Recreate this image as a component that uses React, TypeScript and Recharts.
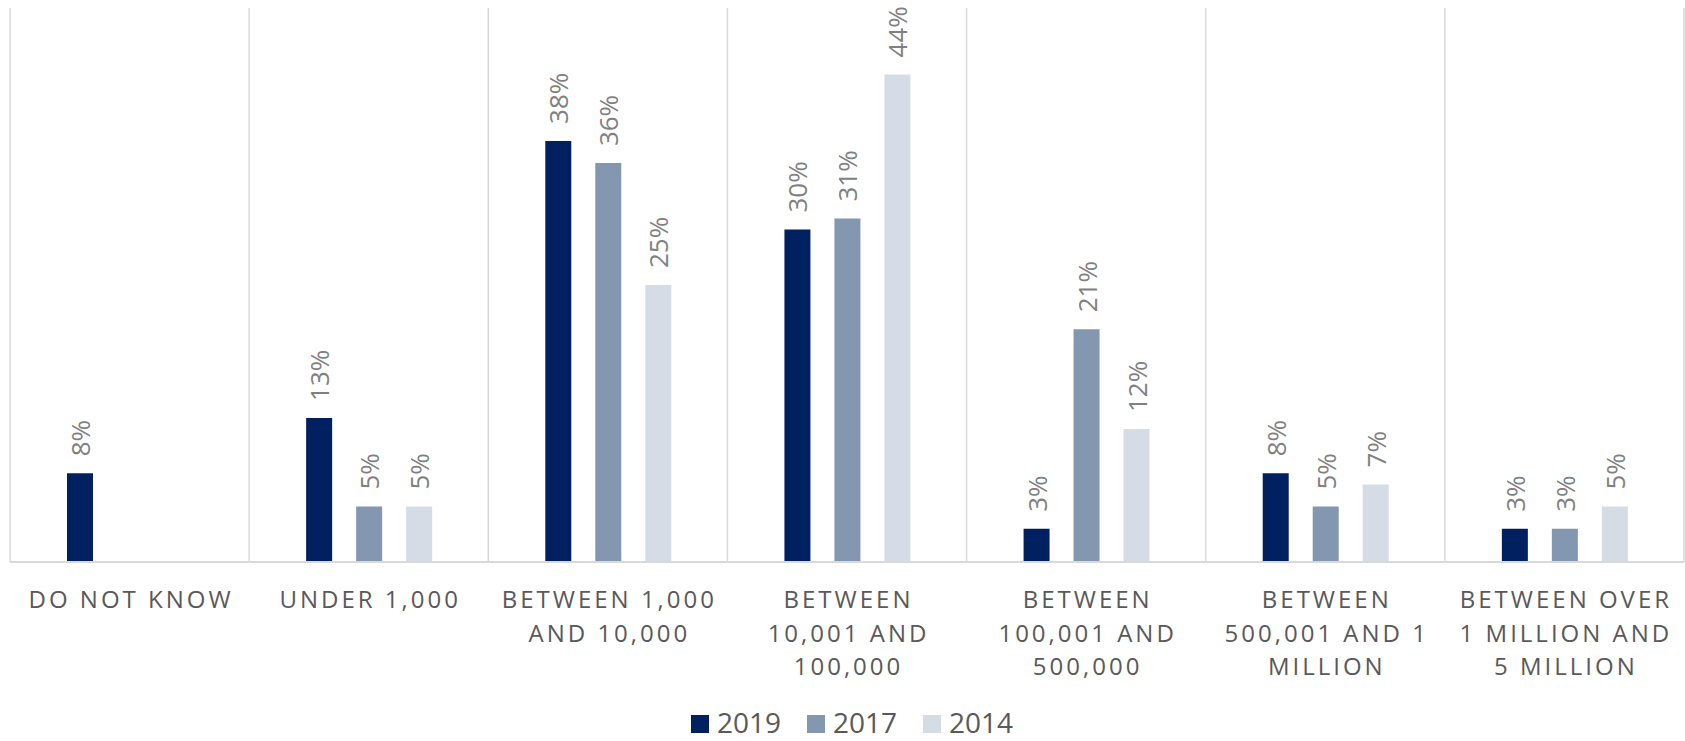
import { BarChart, Bar, XAxis, YAxis, CartesianGrid, Legend, LabelList } from "recharts"

const categories = [
  "DO NOT KNOW",
  "UNDER 1,000",
  "BETWEEN 1,000\nAND 10,000",
  "BETWEEN\n10,001 AND\n100,000",
  "BETWEEN\n100,001 AND\n500,000",
  "BETWEEN\n500,001 AND 1\nMILLION",
  "BETWEEN OVER\n1 MILLION AND\n5 MILLION"
]
const values2019 = [8, 13, 38, 30, 3, 8, 3]
const values2017 = [null, 5, 36, 31, 21, 5, 3]
const values2014 = [null, 5, 25, 44, 12, 7, 5]
const edgeTicks = [0, 1, 2, 3, 4, 5, 6, 7]

const series = [
  { key: "y2019", name: "2019", color: "#002060" },
  { key: "y2017", name: "2017", color: "#8497B0" },
  { key: "y2014", name: "2014", color: "#D6DCE5" }
]

const data = categories.map((category, i) => ({
  category,
  pos: i + 0.5,
  y2019: values2019[i],
  y2017: values2017[i],
  y2014: values2014[i]
}))

const FONT = "'Open Sans', sans-serif"

function CategoryTick(props: any) {
  const { x, y, payload } = props
  const lines = String(payload.value).split("\n")
  return (
    <text
      x={x}
      y={y + 46}
      textAnchor="middle"
      fill="#595959"
      fontFamily={FONT}
      fontSize={24}
      letterSpacing={3}
    >
      {lines.map((line, i) => (
        <tspan key={i} x={x + 1.5} dy={i === 0 ? 0 : 33.5}>
          {line}
        </tspan>
      ))}
    </text>
  )
}

function BarValue(props: any) {
  const { x, y, width, value } = props
  if (value === null || value === undefined) return null
  const cx = x + width / 2
  const ty = y - 17
  return (
    <text
      x={cx}
      y={ty}
      transform={`rotate(-90 ${cx} ${ty})`}
      textAnchor="start"
      dominantBaseline="central"
      fill="#808080"
      fontFamily="'Liberation Sans Narrow', 'Open Sans', sans-serif"
      fontSize={26}
    >
      {`${value}%`}
    </text>
  )
}

function LegendContent() {
  return (
    <div
      style={{
        display: "flex",
        justifyContent: "center",
        alignItems: "center",
        height: 38,
        paddingLeft: 10,
        boxSizing: "border-box"
      }}
    >
      {series.map((s, i) => (
        <div
          key={s.key}
          style={{ display: "flex", alignItems: "center", marginLeft: i === 0 ? 0 : 26 }}
        >
          <span
            style={{
              display: "inline-block",
              width: 18,
              height: 18,
              background: s.color,
              marginRight: 8,
              marginTop: 4
            }}
          />
          <span
            style={{
              fontFamily: FONT,
              fontSize: 28,
              lineHeight: "38px",
              color: "#595959"
            }}
          >
            {s.name}
          </span>
        </div>
      ))}
    </div>
  )
}

export default function App() {
  return (
    <div style={{ position: "absolute", left: 0, top: 0, background: "#fff" }}>
      <BarChart
        width={1685}
        height={741}
        data={data}
        margin={{ top: 8, right: 1, left: 10, bottom: 0 }}
        barSize={26}
        barGap={24}
      >
        <CartesianGrid
          xAxisId="edges"
          vertical={true}
          horizontal={false}
          stroke="#d9d9d9"
          strokeWidth={1.5}
        />
        <XAxis
          xAxisId="edges"
          dataKey="pos"
          type="number"
          domain={[0, 7]}
          ticks={edgeTicks}
          hide
        />
        <XAxis
          dataKey="category"
          interval={0}
          tickLine={false}
          tickSize={0}
          tickMargin={0}
          height={141}
          axisLine={{ stroke: "#d9d9d9", strokeWidth: 2 }}
          tick={<CategoryTick />}
        />
        <YAxis hide domain={[0, 50]} width={0} />
        <Legend verticalAlign="bottom" height={38} content={<LegendContent />} />
        {series.map((s) => (
          <Bar key={s.key} dataKey={s.key} name={s.name} fill={s.color} isAnimationActive={false}>
            <LabelList dataKey={s.key} content={<BarValue />} />
          </Bar>
        ))}
      </BarChart>
    </div>
  )
}
